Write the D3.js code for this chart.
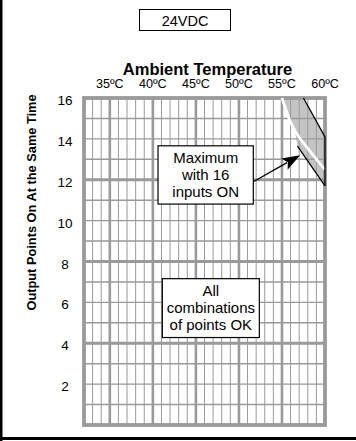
<!DOCTYPE html>
<html>
<head>
<meta charset="utf-8">
<script src="https://cdn.jsdelivr.net/npm/d3@7"></script>
<style>
  html, body { margin: 0; padding: 0; background: #fff; }
  svg { display: block; }
  text { font-family: "Liberation Sans", Arial, sans-serif; fill: #000; }
</style>
</head>
<body>
<svg id="chart" width="356" height="441"></svg>
<script>
// Ambient temperature axis (°C) and output-point axis
const tempTicks = [35, 40, 45, 50, 55, 60];
const tempLabels = ["35ºC", "40ºC", "45ºC", "50ºC", "55ºC", "60ºC"];
const tempDomain = [32, 60];
const pointTicks = [2, 4, 6, 8, 10, 12, 14, 16];
const pointDomain = [0, 16];

// Derating limits: [temperature, output points]
const upperLimit = [[57.5, 16], [60, 14.1], [60, 11.7]];
const lowerLimit = [[56.8, 13.65], [60, 11.7]];          // maximum with 16 inputs ON
const middleCurve = [[55, 16], [55.9, 14.9], [56.5, 14.4], [57.3, 13.9],
                     [58.25, 13.4], [59.2, 12.9], [60, 12.5]];
const derateZone = [[55, 16], [55.9, 14.9], [56.5, 14.4], [56.8, 13.65],
                    [60, 11.7], [60, 14.1], [57.5, 16]];

// Callouts, anchored in chart units
const maxNote = { lines: ["Maximum", "with 16", "inputs ON"], x0: 40.6, x1: 51.67, y0: 13.66, y1: 10.81,
                  from: [51.67, 11.9], to: [57.1, 13.2] };
const okNote = { lines: ["All", "combinations", "of points OK"], x0: 41.1, x1: 52.37, y0: 7.16, y1: 4.28 };

const svg = d3.select("#chart");
const x = d3.scaleLinear().domain(tempDomain).range([84, 325]);
const y = d3.scaleLinear().domain(pointDomain).range([425, 98]);
const grid = "#9a9a9a";

// frame lines on the left and bottom
svg.append("rect").attr("x", 0).attr("y", 0).attr("width", 2.5).attr("height", 441).attr("fill", "#000");
svg.append("rect").attr("x", 0).attr("y", 437).attr("width", 356).attr("height", 3).attr("fill", "#000");

// voltage tag
svg.append("rect").attr("x", 139.5).attr("y", 9.5).attr("width", 91).attr("height", 21)
  .attr("fill", "#fff").attr("stroke", "#000").attr("stroke-width", 1);
svg.append("text").attr("x", 185).attr("y", 25.5).attr("text-anchor", "middle")
  .attr("font-size", 14.5).text("24VDC");

// shaded derating zone (under the grid)
const line = d3.line().x(d => x(d[0])).y(d => y(d[1]));
svg.append("path").attr("d", line(derateZone) + "Z").attr("fill", "#c4c4c4");

// grid: 1°C / 1 point minor lines, 5°C / 4 point major lines
const minorT = d3.range(tempDomain[0] + 1, tempDomain[1]).filter(t => !tempTicks.includes(t));
const minorP = d3.range(1, 16).filter(p => p % 4 !== 0);
const majorP = [4, 8, 12];
const g = svg.append("g");
g.selectAll(".vminor").data(minorT).join("line")
  .attr("x1", d => x(d)).attr("x2", d => x(d)).attr("y1", y(16)).attr("y2", y(0))
  .attr("stroke", grid).attr("stroke-width", 1);
g.selectAll(".hminor").data(minorP).join("line")
  .attr("x1", x(32)).attr("x2", x(60)).attr("y1", d => y(d)).attr("y2", d => y(d))
  .attr("stroke", grid).attr("stroke-width", 1.4);
g.selectAll(".vmajor").data(tempTicks.filter(t => t < 60)).join("line")
  .attr("x1", d => x(d)).attr("x2", d => x(d)).attr("y1", y(16)).attr("y2", y(0))
  .attr("stroke", grid).attr("stroke-width", 2.6);
g.selectAll(".hmajor").data(majorP).join("line")
  .attr("x1", x(32)).attr("x2", x(60)).attr("y1", d => y(d)).attr("y2", d => y(d))
  .attr("stroke", grid).attr("stroke-width", 3);
g.append("rect").attr("x", x(32)).attr("y", y(16)).attr("width", x(60) - x(32)).attr("height", y(0) - y(16))
  .attr("fill", "none").attr("stroke", grid).attr("stroke-width", 3.8);

// limit curves
svg.append("path").attr("d", line(middleCurve)).attr("fill", "none")
  .attr("stroke", "#fff").attr("stroke-width", 2.8);
svg.append("path").attr("d", line(upperLimit)).attr("fill", "none")
  .attr("stroke", "#000").attr("stroke-width", 1.3);
svg.append("path").attr("d", line(lowerLimit)).attr("fill", "none")
  .attr("stroke", "#000").attr("stroke-width", 1.3);

// axis titles and tick labels
svg.append("text").attr("x", 207.5).attr("y", 74.5).attr("text-anchor", "middle")
  .attr("font-size", 16.5).attr("font-weight", "bold").text("Ambient Temperature");
svg.selectAll(".tlab").data(tempTicks).join("text")
  .attr("x", d => x(d)).attr("y", 87.5).attr("text-anchor", "middle")
  .attr("font-size", 12.6).text((d, i) => tempLabels[i]);
svg.selectAll(".plab").data(pointTicks).join("text")
  .attr("x", 65).attr("y", d => y(d) + 7).attr("text-anchor", "middle")
  .attr("font-size", 13.5).text(d => d);
svg.append("text").attr("transform", "translate(36,202.5) rotate(-90)").attr("text-anchor", "middle")
  .attr("font-size", 12.8).attr("font-weight", "bold").text("Output Points On At the Same Time");

// callout boxes
function callout(n) {
  const bx = x(n.x0), by = y(n.y0), bw = x(n.x1) - x(n.x0), bh = y(n.y1) - y(n.y0);
  svg.append("rect").attr("x", bx).attr("y", by).attr("width", bw).attr("height", bh)
    .attr("fill", "#fff").attr("stroke", "#000").attr("stroke-width", 1.2);
  const cx = bx + bw / 2, lh = 17, top = by + bh / 2 - lh * (n.lines.length - 1) / 2;
  svg.selectAll(null).data(n.lines).join("text")
    .attr("x", cx).attr("y", (d, i) => top + i * lh + 5.3).attr("text-anchor", "middle")
    .attr("font-size", 15).text(d => d);
}
callout(maxNote);
callout(okNote);

// arrow from the "Maximum" callout to the lower limit
{
  const [x1, y1] = [x(maxNote.from[0]), y(maxNote.from[1])];
  const [x2, y2] = [x(maxNote.to[0]), y(maxNote.to[1])];
  const a = Math.atan2(y2 - y1, x2 - x1), L = 18, W = 6.5;
  const bx = x2 - L * Math.cos(a), by = y2 - L * Math.sin(a);
  svg.append("line").attr("x1", x1).attr("y1", y1).attr("x2", bx + 3 * Math.cos(a)).attr("y2", by + 3 * Math.sin(a))
    .attr("stroke", "#000").attr("stroke-width", 1.3);
  const head = [[x2, y2],
                [bx - W * Math.sin(a), by + W * Math.cos(a)],
                [bx + 4 * Math.cos(a), by + 4 * Math.sin(a)],
                [bx + W * Math.sin(a), by - W * Math.cos(a)]];
  svg.append("path").attr("d", d3.line()(head) + "Z").attr("fill", "#000");
}
</script>
</body>
</html>
